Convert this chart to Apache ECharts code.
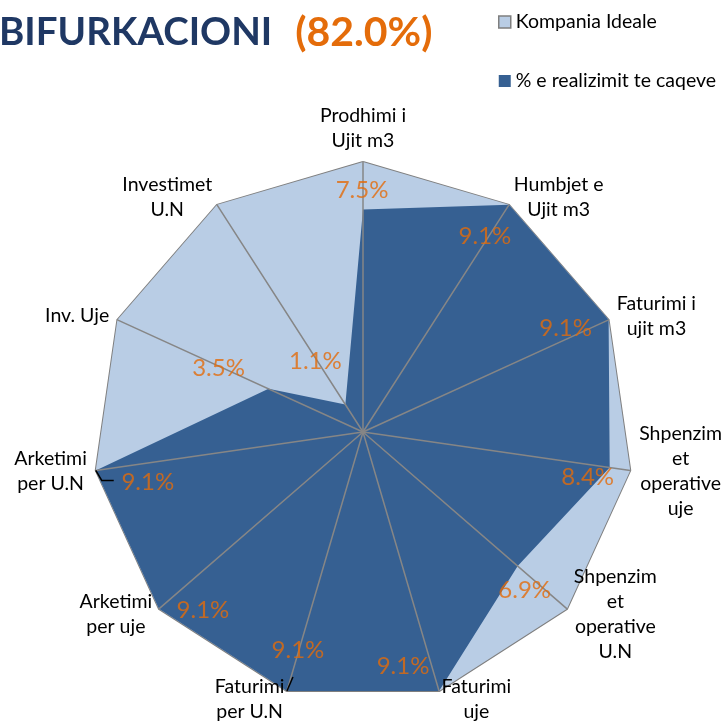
<!DOCTYPE html>
<html>
<head>
<meta charset="utf-8">
<script src="https://cdn.jsdelivr.net/npm/echarts@6/dist/echarts.min.js"></script>
<style>
  html, body { margin: 0; padding: 0; background: #fff; }
  #main { width: 724px; height: 723px; }
</style>
</head>
<body>
<div id="main"></div>
<script>
// categories clockwise from the top
const categories = [
  'Prodhimi i\nUjit m3',
  'Humbjet e\nUjit m3',
  'Faturimi i\nujit m3',
  'Shpenzim\net\noperative\nuje',
  'Shpenzim\net\noperative\nU.N',
  'Faturimi\nuje',
  'Faturimi\nper U.N',
  'Arketimi\nper uje',
  'Arketimi\nper U.N',
  'Inv. Uje',
  'Investimet\nU.N'
];
const seriesNames = ['Kompania Ideale', '% e realizimit te caqeve'];
const idealValues = [9.1, 9.1, 9.1, 9.1, 9.1, 9.1, 9.1, 9.1, 9.1, 9.1, 9.1];
const realValues = [7.5, 9.1, 9.1, 8.4, 6.9, 9.1, 9.1, 9.1, 9.1, 3.5, 1.1];

// where excel pushed each value label (px from the point)
const labelNudge = [[-1,-19],[-24,31],[-43,8],[-22,10],[7,24],[-36,-25],[11,-41],[44,1],[52,12],[-50,-21],[-30,-43]];
// small leader ticks excel drew for two labels (px from the point)
const leaderTicks = { 6: [[0, 0], [6, -14]], 8: [[0, 0], [6, 10], [18, 10]] };

const n = categories.length;
const maxVal = Math.max(...idealValues);
const total = realValues.reduce((a, b) => a + b, 0).toFixed(1);
const center = [363, 432];
const radius = 270;
const orange = '#E46C0A';
const font = 'Lato, "Open Sans", sans-serif';

// radar goes counter-clockwise, so feed it in reverse
const order = categories.map((c, i) => (n - i) % n);

var myChart = echarts.init(document.getElementById('main'));
var option = {
  animation: false,
  title: {
    text: '{a|BIFURKACIONI}{b|(' + total + '%)}',
    left: -6,
    top: 7,
    textStyle: {
      rich: {
        a: { fontSize: 38.5, fontWeight: 'bold', color: '#1F3864', fontFamily: font },
        b: { fontSize: 41, fontWeight: 'bold', color: orange, fontFamily: font, padding: [0, 0, 0, 23] }
      }
    }
  },
  legend: {
    orient: 'vertical',
    left: 493,
    top: 7,
    itemGap: 39,
    itemWidth: 12,
    itemHeight: 12,
    icon: 'rect',
    textStyle: { fontSize: 19.5, color: '#000', fontFamily: font },
    data: [
      { name: seriesNames[0], itemStyle: { color: '#B9CDE5', borderColor: '#7F7F7F', borderWidth: 1.5 } },
      { name: seriesNames[1], itemStyle: { color: '#366092', borderWidth: 0 } }
    ]
  },
  radar: {
    z: 10,
    center: center,
    radius: radius,
    startAngle: 90,
    shape: 'polygon',
    splitNumber: 1,
    nameGap: 9,
    indicator: order.map(i => ({ name: categories[i], max: maxVal })),
    axisName: {
      formatter: (name) => name.split('\n').map(s => '{a|' + s + '}').join('\n'),
      rich: {
        a: { align: 'center', fontSize: 19.5, lineHeight: 25, color: '#000', fontFamily: font }
      }
    },
    axisLine: { lineStyle: { color: '#868686', width: 1.5 } },
    splitLine: { show: false },
    splitArea: { show: false }
  },
  polar: { center: center, radius: radius },
  angleAxis: { type: 'value', min: 0, max: n, startAngle: 90, clockwise: true, show: false },
  radiusAxis: { type: 'value', min: 0, max: maxVal, show: false },
  series: [
    {
      type: 'radar',
      silent: true,
      symbol: 'none',
      data: [
        {
          name: seriesNames[0],
          value: order.map(i => idealValues[i]),
          lineStyle: { color: '#7F7F7F', width: 2 },
          itemStyle: { color: '#B9CDE5' },
          areaStyle: { color: '#B9CDE5', opacity: 1 }
        },
        {
          name: seriesNames[1],
          value: order.map(i => realValues[i]),
          lineStyle: { width: 0 },
          itemStyle: { color: '#366092' },
          areaStyle: { color: '#366092', opacity: 1 }
        }
      ]
    },
    {
      type: 'scatter',
      coordinateSystem: 'polar',
      silent: true,
      z: 20,
      symbolSize: 0,
      data: realValues.map((v, i) => [v, i]),
      label: {
        show: true,
        position: 'inside',
        color: orange,
        fontSize: 24,
        fontFamily: font,
        formatter: (p) => p.value[0].toFixed(1) + '%'
      },
      labelLayout: (p) => ({ dx: labelNudge[p.dataIndex][0], dy: labelNudge[p.dataIndex][1] })
    }
  ]
};
myChart.setOption(option);

// leader ticks hang off the data points, located through the polar scale
const ticks = Object.keys(leaderTicks).map(k => {
  const i = +k;
  const p = myChart.convertToPixel({ seriesIndex: 1 }, [realValues[i], i]);
  return {
    type: 'polyline',
    z: 30,
    silent: true,
    shape: { points: leaderTicks[k].map(d => [p[0] + d[0], p[1] + d[1]]) },
    style: { stroke: '#000', lineWidth: 1.5, fill: null }
  };
});
myChart.setOption({ graphic: ticks });
</script>
</body>
</html>
